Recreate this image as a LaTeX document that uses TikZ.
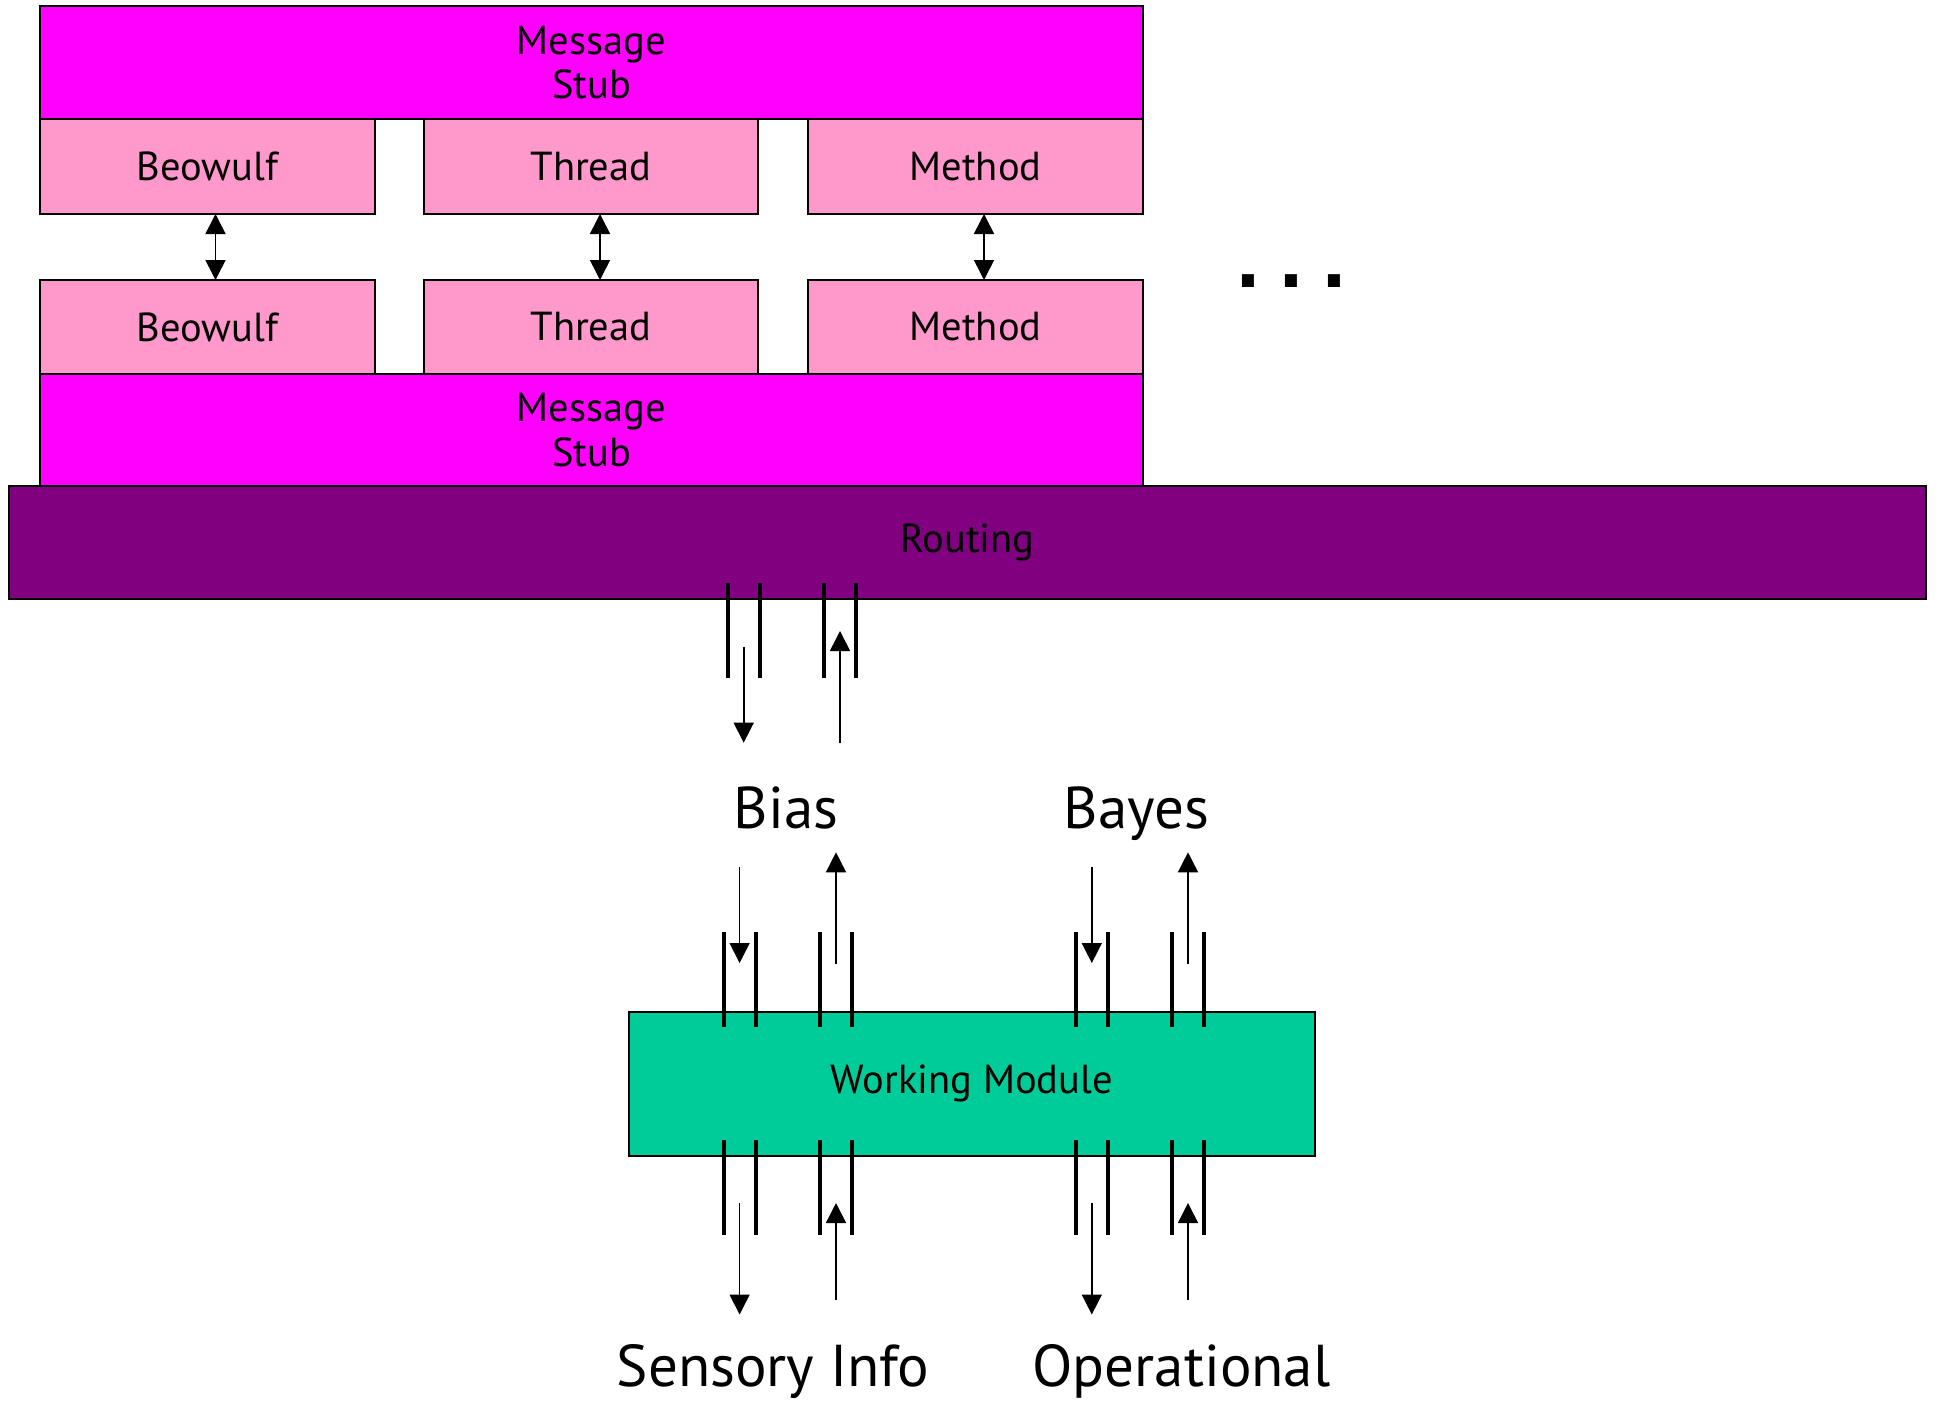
\documentclass[tikz,border=0pt]{standalone}
\usepackage{fontspec}
\setmainfont{PT Sans}
\newfontfamily\dotfont{DejaVu Sans}
\usetikzlibrary{arrows.meta}
\definecolor{stubc}{HTML}{FF00FF}
\definecolor{modc}{HTML}{FF99CC}
\definecolor{routc}{HTML}{800080}
\definecolor{workc}{HTML}{00CC99}
\begin{document}
\begin{tikzpicture}[x=1pt,y=-1pt,
  box/.style={draw=black,line width=2pt,inner sep=0pt,outer sep=0pt,anchor=north west,
    font=\fontsize{40.5}{44.5}\selectfont,align=center},
  pipe/.style={line width=4pt},
  arr/.style={line width=1.6pt,-{Triangle[width=20pt,length=20pt]}},
  darr/.style={line width=1.6pt,{Triangle[width=20pt,length=20pt]}-{Triangle[width=20pt,length=20pt]}},
  big/.style={font=\fontsize{59}{66}\selectfont,anchor=base,inner sep=0pt}]
\useasboundingbox[fill=white] (0,0) rectangle (1940,1400);

% top stack
\node[box,fill=stubc,minimum width=1103pt,minimum height=113pt] (stubT) at (40,6) {Message\\Stub};
\node[box,fill=modc,minimum width=335pt,minimum height=95pt] (bA) at (40,119) {Beowulf};
\node[box,fill=modc,minimum width=334pt,minimum height=95pt] (tA) at (424,119) {Thread};
\node[box,fill=modc,minimum width=335pt,minimum height=95pt] (mA) at (808,119) {Method};
\node[box,fill=modc,minimum width=335pt,minimum height=94pt] (bB) at (40,280) {Beowulf};
\node[box,fill=modc,minimum width=334pt,minimum height=94pt] (tB) at (424,280) {Thread};
\node[box,fill=modc,minimum width=335pt,minimum height=94pt] (mB) at (808,280) {Method};
\node[box,fill=stubc,minimum width=1103pt,minimum height=112pt] (stubB) at (40,374) {Message\\Stub};
\node[box,fill=routc,minimum width=1917pt,minimum height=113pt] (routing) at (9,486) {Routing};

\draw[darr] ([xshift=8pt]bA.south) -- ([xshift=8pt]bB.north);
\draw[darr] ([xshift=9pt]tA.south) -- ([xshift=9pt]tB.north);
\draw[darr] ([xshift=8.5pt]mA.south) -- ([xshift=8.5pt]mB.north);

\node[anchor=base,inner sep=0pt,font=\dotfont\bfseries\fontsize{68}{70}\selectfont] (dots) at (1291.5,287) {.\hspace{17pt}.\hspace{17pt}.};

% working module
\node[box,fill=workc,minimum width=686.5pt,minimum height=143.6pt] (work) at (628.5,1012) {Working Module};

% pipes below routing
\foreach \x in {727.7,760,824,855.7} \draw[pipe] (\x,583) -- (\x,678);
\coordinate (rd1) at (743.7,646.7); \coordinate (rd2) at (743.7,742.7);
\coordinate (ru1) at (840,743); \coordinate (ru2) at (840,631);
\draw[arr] (rd1) -- (rd2);
\draw[arr] (ru1) -- (ru2);

% labels
\node[big] (bias) at (786,828) {Bias};
\node[big] (bayes) at (1136.6,828) {Bayes};
\node[big] (sensory) at (773,1386) {Sensory Info};
\node[big] (oper) at (1181.5,1386) {Operational};

% pipes above and below working module
\foreach \x in {724,756,819.6,852,1075.7,1108,1172,1204} {
  \draw[pipe] (\x,931.7) -- (\x,1027);
  \draw[pipe] (\x,1139.5) -- (\x,1235);
}
% arrows above working module
\coordinate (ad1a) at (739.6,866.7); \coordinate (ad1b) at (739.6,963);
\coordinate (au1a) at (836,964); \coordinate (au1b) at (836,852.3);
\coordinate (ad2a) at (1091.8,866.7); \coordinate (ad2b) at (1091.8,963);
\coordinate (au2a) at (1188,964); \coordinate (au2b) at (1188,852.3);
\draw[arr] (ad1a) -- (ad1b);
\draw[arr] (au1a) -- (au1b);
\draw[arr] (ad2a) -- (ad2b);
\draw[arr] (au2a) -- (au2b);
% arrows below working module
\coordinate (bd1a) at (739.6,1202.5); \coordinate (bd1b) at (739.6,1314.5);
\coordinate (bu1a) at (836,1300); \coordinate (bu1b) at (836,1203);
\coordinate (bd2a) at (1091.8,1202.5); \coordinate (bd2b) at (1091.8,1314.5);
\coordinate (bu2a) at (1188,1300); \coordinate (bu2b) at (1188,1203);
\draw[arr] (bd1a) -- (bd1b);
\draw[arr] (bu1a) -- (bu1b);
\draw[arr] (bd2a) -- (bd2b);
\draw[arr] (bu2a) -- (bu2b);
\end{tikzpicture}
\end{document}
